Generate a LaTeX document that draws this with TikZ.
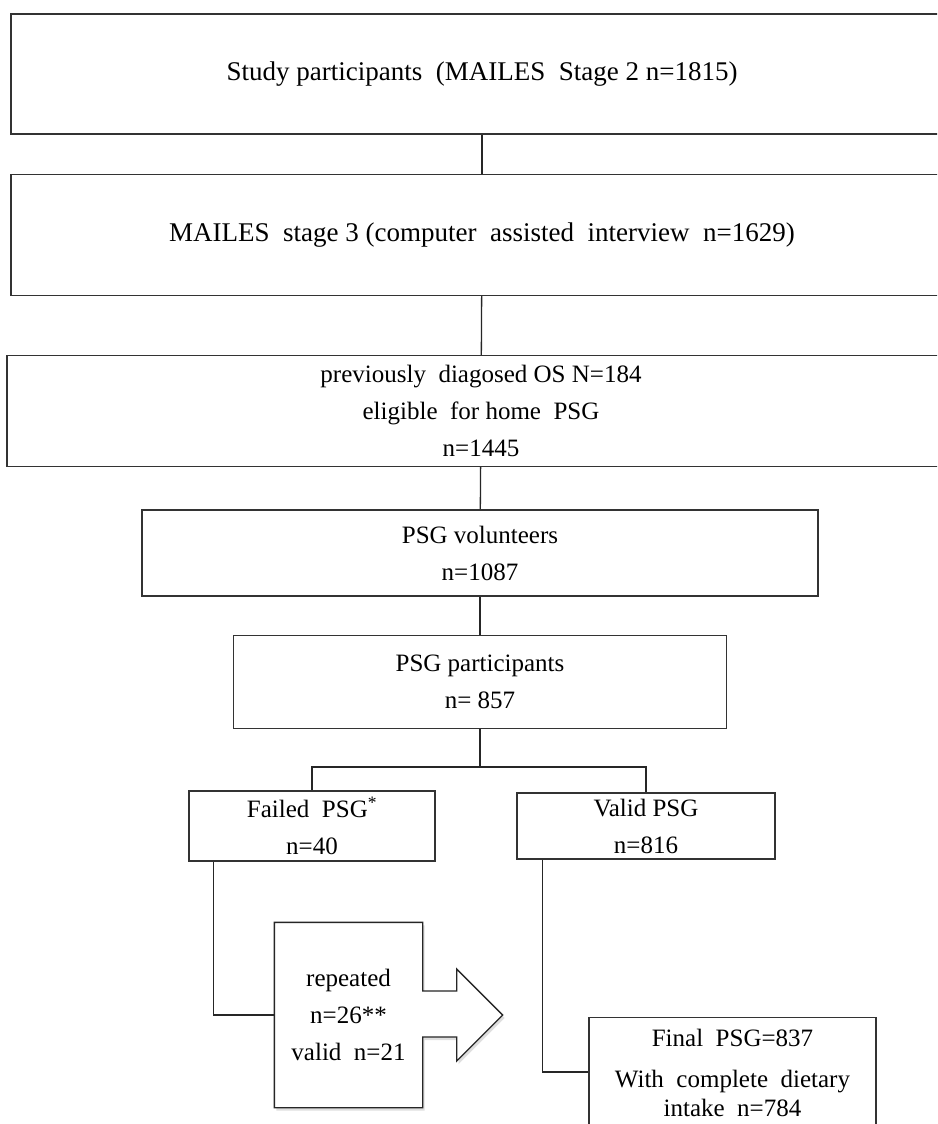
\documentclass[tikz,border=0pt]{standalone}
\usepackage{fontspec}
\setmainfont{Liberation Serif}
\usepackage{tikz}
\usetikzlibrary{positioning,calc,shadows}

\tikzstyle{box}  = [draw=black!80, line width=1.3pt, rectangle, align=center, inner sep=0pt, font=\fontsize{25}{37}\selectfont]
\tikzstyle{wide} = [box, font=\fontsize{27}{37}\selectfont]
\tikzstyle{line} = [draw=black!85, line width=1.3pt]

\begin{document}
\begin{tikzpicture}[x=1pt,y=-1pt]
    \clip (0,0) rectangle (937,1124);
    \fill[white] (0,0) rectangle (937,1124);

    % the three top boxes run past the right edge
    \node[wide, minimum width=942, minimum height=120] (study) at (482,74) {Study\ participants\ \ (MAILES\ \ Stage 2 n=1815)};
    \node[wide, minimum width=942, minimum height=121] (stage) at (482,235) {MAILES\ \ stage 3 (computer\ \ assisted\ \ interview\ \ n=1629)};
    \node[box, minimum width=948, minimum height=111] (elig) at (481,411) {previously\ \ diagosed OS N=184\\eligible\ \ for home\ \ PSG\\n=1445};

    \node[box, minimum width=676, minimum height=86] (volun) at (480,553) {PSG volunteers\\n=1087};
    \node[box, minimum width=493, minimum height=93] (partic) at (480,682) {PSG participants\\n= 857};

    \coordinate (split) at (480,767);

    \node[box, minimum width=246, minimum height=70] (failed) at (312,826) {Failed\ \ PSG\textsuperscript{*}\\n=40};
    \node[box, minimum width=258, minimum height=66] (valid) at (646,826) {Valid PSG\\n=816};

    % callout with the arrow
    \node[box, draw=none, minimum width=147, minimum height=184] (rep) at (348.5,1015) {};
    \draw[line, fill=white, drop shadow={opacity=0.25, shadow xshift=2pt, shadow yshift=-3pt}]
        (rep.north west) -- (rep.north east) -- ($(rep.east)+(0,-24)$) -- ($(rep.east)+(34,-24)$)
        -- ($(rep.east)+(34,-46)$) -- ($(rep.east)+(80,0)$) -- ($(rep.east)+(34,46)$)
        -- ($(rep.east)+(34,22)$) -- ($(rep.east)+(0,22)$) -- (rep.south east) -- (rep.south west) -- cycle;
    \node[box, draw=none] (reptext) at (rep) {repeated\\n=26**\\valid\ \ n=21};

    \node[box, anchor=north, minimum width=287, minimum height=110] (final) at (732.5,1017) {Final\ \ PSG=837\\[4pt]With\ \ complete\ \ dietary\\[-8pt]intake\ \ n=784};

    \draw[line] (study) -- (stage);
    \draw[line] (stage) -- (elig);
    \draw[line] (elig) -- (volun);
    \draw[line] (volun) -- (partic);
    \draw[line] (partic) -- (split);
    \draw[line] (split) -| (failed);
    \draw[line] (split) -| (valid);
    \draw[line] ($(failed.south west)+(25,0)$) |- (rep.west);
    \draw[line] ($(valid.south west)+(26,0)$) |- ($(final.north west)+(0,55)$);
\end{tikzpicture}
\end{document}
